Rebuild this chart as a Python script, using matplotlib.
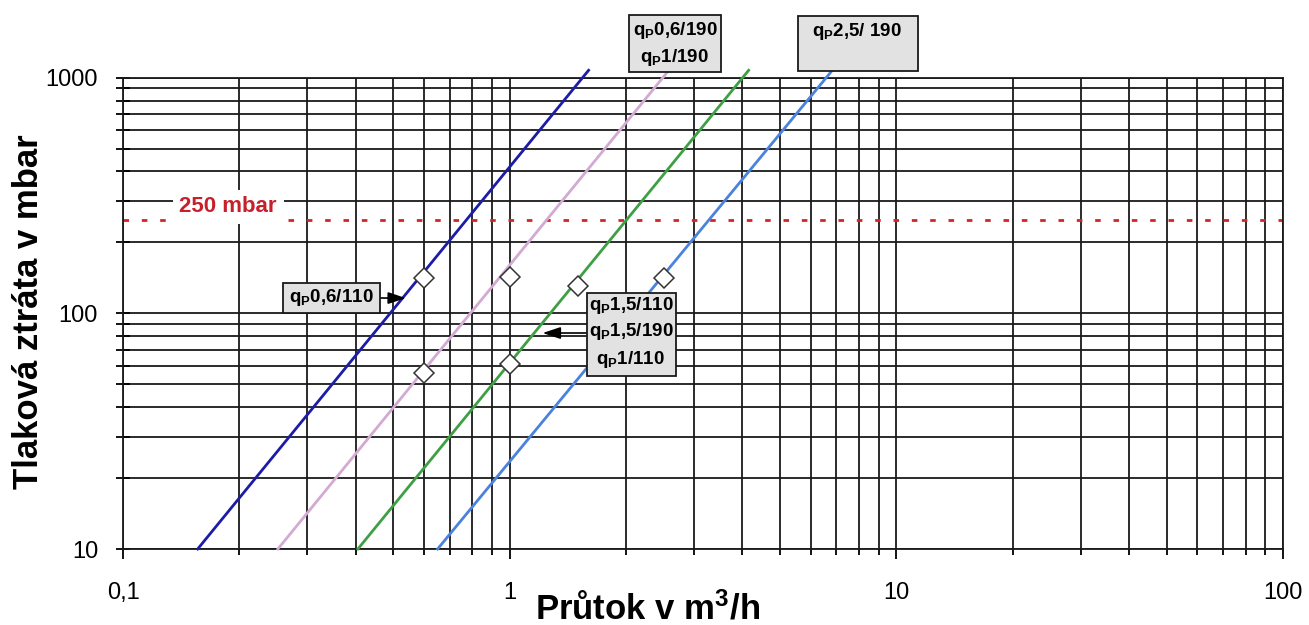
import matplotlib
matplotlib.use("Agg")
import matplotlib.pyplot as plt
from matplotlib.patches import Rectangle
from matplotlib.ticker import NullFormatter, LogLocator

plt.rcParams['font.family'] = ['Liberation Sans', 'DejaVu Sans']
plt.rcParams['mathtext.fontset'] = 'custom'
plt.rcParams['mathtext.rm'] = 'Liberation Sans:bold'
plt.rcParams['mathtext.it'] = 'Liberation Sans:bold'
plt.rcParams['mathtext.bf'] = 'Liberation Sans:bold'

# flow (m3/h) where each curve crosses 10 mbar and its top end (~1075 mbar)
dp_ends = [10, 1075]
flow_navy = [0.156, 1.60]
flow_pink = [0.2515, 2.58]
flow_green = [0.405, 4.15]
flow_blue = [0.651, 6.83]

# measured points (diamonds)
point_flow = [0.6, 1.0, 0.6, 1.5, 1.0, 2.5]
point_dp = [141, 142, 56, 130, 61, 141]

limit_dp = 250
x_ticks = [0.1, 1, 10, 100]
x_labels = ['0,1', '1', '10', '100']
y_ticks = [10, 100, 1000]
y_labels = ['10', '100', '1000']

W, H = 1309, 625
fig = plt.figure(figsize=(W / 100, H / 100), dpi=100)
ax = fig.add_axes([123 / W, 1 - 549 / H, (1283 - 123) / W, (549 - 77.7) / H])
ax.set_xscale('log')
ax.set_yscale('log')
ax.set_xlim(0.1, 100)
ax.set_ylim(10, 1000)

ax.grid(True, which='both', color='#1a1a1a', lw=1.3, zorder=1)
ax.set_axisbelow(True)
for s in ax.spines.values():
    s.set_color('#1a1a1a')
    s.set_linewidth(1.3)

ax.set_xticks(x_ticks, x_labels)
ax.set_yticks(y_ticks, y_labels)
ax.xaxis.set_minor_locator(LogLocator(base=10, subs=range(2, 10)))
ax.yaxis.set_minor_locator(LogLocator(base=10, subs=range(2, 10)))
ax.xaxis.set_minor_formatter(NullFormatter())
ax.yaxis.set_minor_formatter(NullFormatter())
ax.tick_params(axis='x', which='major', direction='out', length=7, width=1.3, pad=17, labelsize=17)
ax.tick_params(axis='x', which='minor', direction='out', length=4, width=1.3)
ax.tick_params(axis='y', which='both', direction='inout', length=10, width=1.3, pad=13, labelsize=17)

# red limit line and label
ax.axhline(limit_dp, color='#d42424', lw=2.0, dashes=(2.0, 4.6), zorder=2)
ax.text(0.187, 283, '250 mbar', color='#c8202a', fontsize=16, fontweight='bold',
        ha='center', va='center', zorder=3,
        bbox=dict(boxstyle='square,pad=0.3', fc='white', ec='none'))

ax.plot(flow_navy, dp_ends, color='#1c1ca6', lw=2.0, zorder=3, clip_on=False)
ax.plot(flow_pink, dp_ends, color='#d2aad2', lw=2.0, zorder=3, clip_on=False)
ax.plot(flow_green, dp_ends, color='#3f9f45', lw=2.0, zorder=3, clip_on=False)
ax.plot(flow_blue, dp_ends, color='#4a82dc', lw=2.0, zorder=3, clip_on=False)

ax.plot(point_flow, point_dp, ls='none', marker='D', ms=10, mfc='white',
        mec='#333333', mew=1.1, zorder=4)


def label_box(x0, y0, x1, y1, text, cx, cy, spacing):
    fig.add_artist(Rectangle((x0 / W, 1 - y1 / H), (x1 - x0) / W, (y1 - y0) / H,
                             transform=fig.transFigure, fc='#e2e2e2',
                             ec='#1a1a1a', lw=1.3, zorder=5))
    fig.text(cx / W, 1 - cy / H, text, ha='center', va='center', fontsize=13.5,
             fontweight='bold', linespacing=spacing, zorder=6)


label_box(629, 15, 721, 72, 'q$_\\mathrm{P}$0,6/190\nq$_\\mathrm{P}$1/190', 675, 44, 1.45)
label_box(798, 16, 918, 71, 'q$_\\mathrm{P}$2,5/ 190', 857, 31, 1.2)
label_box(283, 283, 380, 313, 'q$_\\mathrm{P}$0,6/110', 331, 298, 1.2)
label_box(587, 293, 676, 376,
          'q$_\\mathrm{P}$1,5/110\nq$_\\mathrm{P}$1,5/190\nq$_\\mathrm{P}$1/110', 631, 332, 1.4)

arrow = dict(arrowstyle='-|>,head_length=0.9,head_width=0.3', color='black',
             lw=1.2, shrinkA=0, shrinkB=0, mutation_scale=12)
ax.annotate('', xy=(0.539, 116), xycoords='data',
            xytext=(380, H - 298), textcoords='figure pixels', arrowprops=arrow,
            zorder=4)
ax.annotate('', xy=(1.217, 82.5), xycoords='data',
            xytext=(587, H - 333), textcoords='figure pixels', arrowprops=arrow,
            zorder=4)

fig.text(29 / W, 1 - 312 / H, 'Tlaková ztráta v mbar', rotation=90, ha='center',
         va='center', fontsize=25, fontweight='bold')
fig.text(648 / W, 1 - 609 / H, 'Průtok v m$^\\mathrm{3}$/h', ha='center', va='center',
         fontsize=25, fontweight='bold')

fig.savefig('out.png', dpi=100)
